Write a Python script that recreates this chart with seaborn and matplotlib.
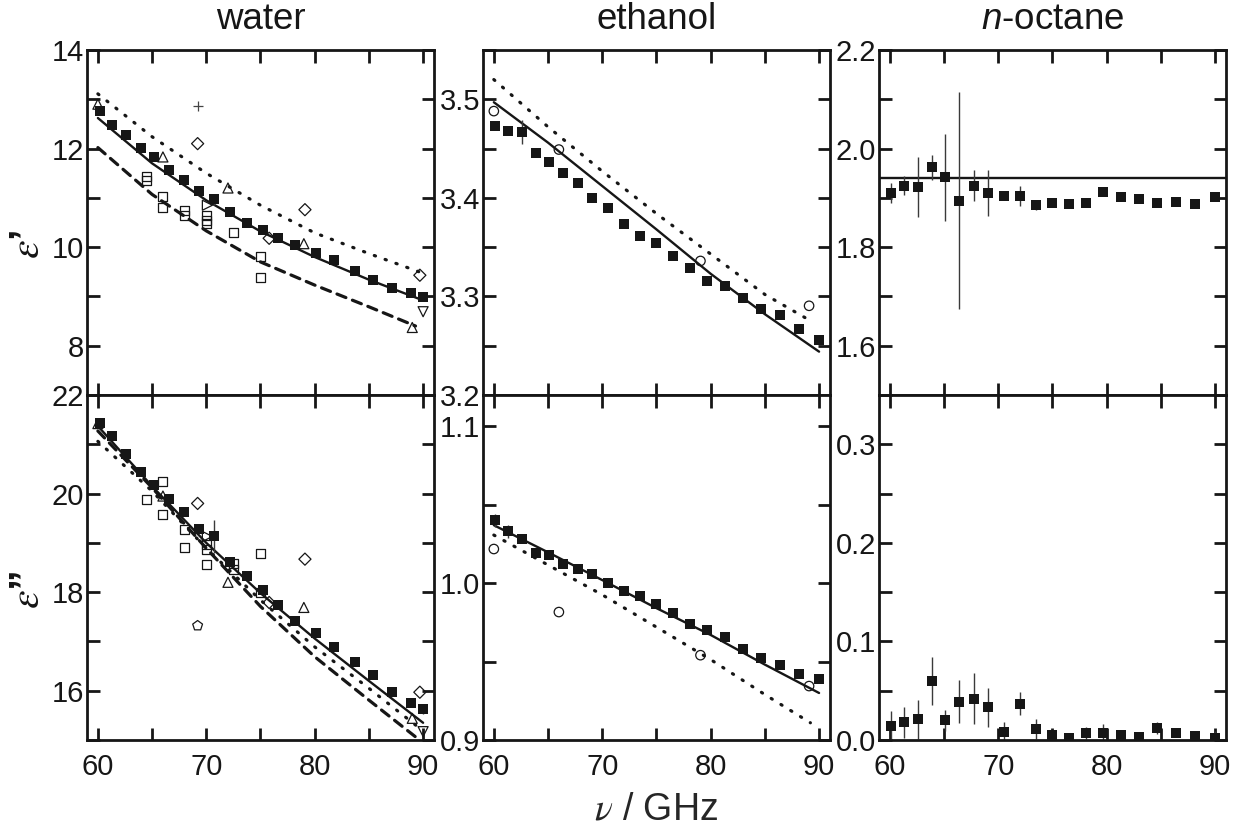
import matplotlib
matplotlib.use("Agg")
import matplotlib.pyplot as plt
from matplotlib.ticker import MultipleLocator, FormatStrFormatter
import seaborn as sns

# measured frequencies (GHz) of the filled squares
freq_water = [60.15, 61.3, 62.6, 64.0, 65.2, 66.6, 67.9, 69.3, 70.7, 72.2, 73.8,
              75.2, 76.6, 78.2, 80.1, 81.8, 83.7, 85.4, 87.1, 88.9, 90.0]
freq = [60.1, 61.3, 62.6, 63.9, 65.1, 66.4, 67.75, 69.1, 70.55, 72.0, 73.45,
        75.0, 76.5, 78.1, 79.65, 81.3, 82.95, 84.65, 86.4, 88.15, 90.0]

# water, this work
water_eps1 = [12.76, 12.47, 12.28, 12.02, 11.83, 11.56, 11.36, 11.14, 10.97, 10.71, 10.49,
              10.34, 10.18, 10.04, 9.89, 9.74, 9.52, 9.33, 9.18, 9.06, 8.99]
water_eps1_err = [0, 0, 0, 0, 0, 0, 0, 0, 0.11, 0, 0, 0, 0, 0, 0, 0, 0, 0, 0, 0, 0.03]
water_eps2 = [21.44, 21.17, 20.81, 20.44, 20.17, 19.90, 19.62, 19.28, 19.13, 18.62, 18.32,
              18.04, 17.73, 17.42, 17.18, 16.88, 16.58, 16.32, 15.98, 15.76, 15.63]
water_eps2_err = [0, 0, 0, 0, 0, 0, 0, 0, 0.33, 0, 0, 0, 0, 0, 0, 0, 0, 0, 0, 0, 0.1]

# ethanol, this work
ethanol_eps1 = [3.473, 3.468, 3.467, 3.445, 3.436, 3.425, 3.415, 3.400, 3.390, 3.373, 3.361,
                3.354, 3.341, 3.329, 3.316, 3.311, 3.298, 3.287, 3.281, 3.267, 3.256]
ethanol_eps1_err = [0, 0, 0.012, 0, 0, 0, 0, 0, 0, 0, 0, 0, 0, 0, 0, 0, 0, 0, 0, 0, 0]
ethanol_eps2 = [1.040, 1.033, 1.028, 1.019, 1.018, 1.012, 1.009, 1.006, 1.000, 0.995, 0.992,
                0.987, 0.981, 0.974, 0.970, 0.966, 0.958, 0.952, 0.948, 0.942, 0.939]
ethanol_eps2_err = [0.004, 0.004, 0, 0, 0, 0.002, 0, 0, 0, 0, 0, 0, 0, 0, 0, 0, 0, 0, 0, 0, 0]

# n-octane, this work
octane_eps1 = [1.910, 1.925, 1.922, 1.962, 1.942, 1.894, 1.925, 1.910, 1.904, 1.904, 1.885,
               1.889, 1.888, 1.890, 1.911, 1.901, 1.898, 1.890, 1.891, 1.888, 1.902]
octane_eps1_err = [0.021, 0.020, 0.060, 0.025, 0.088, 0.22, 0.032, 0.047, 0.005, 0.02, 0.01,
                   0.004, 0.004, 0.004, 0.004, 0.004, 0.004, 0.006, 0.004, 0.004, 0.004]
octane_eps2 = [0.0145, 0.018, 0.021, 0.060, 0.020, 0.039, 0.042, 0.033, 0.0085, 0.037, 0.011,
               0.005, 0.002, 0.007, 0.007, 0.005, 0.003, 0.0125, 0.007, 0.004, 0.002]
octane_eps2_err = [0.015, 0.016, 0.020, 0.024, 0.0105, 0.022, 0.026, 0.020, 0.010, 0.012, 0.010,
                   0.004, 0.003, 0.006, 0.009, 0.004, 0.004, 0.006, 0.004, 0.003, 0.007]
octane_eps1_model = 1.941

# literature values for water (open symbols)
lit_tri_f = [60.0, 66.0, 72.0, 79.0, 89.0]
lit_tri_eps1 = [12.90, 11.83, 11.20, 10.07, 8.37]
lit_tri_eps2 = [21.42, 19.95, 18.20, 17.69, 15.44]
lit_dia_f = [69.2, 75.8, 79.1, 89.7]
lit_dia_eps1 = [12.10, 10.18, 10.76, 9.43]
lit_dia_eps2 = [19.80, 17.79, 18.67, 15.97]
lit_plus_f = [69.2]
lit_plus_eps1 = [12.86]
lit_pent_f = [69.2]
lit_pent_eps2 = [17.32]
lit_sq1_f = [64.5, 64.5, 66.0, 66.0, 68.0, 68.0, 70.0, 70.0, 70.0, 72.5, 75.0, 75.0]
lit_sq1_eps1 = [11.44, 11.36, 11.02, 10.80, 10.75, 10.65, 10.65, 10.55, 10.48, 10.29, 9.82, 9.38]
lit_sq2_f = [64.5, 66.0, 66.0, 68.0, 68.0, 70.0, 70.0, 70.0, 72.5, 72.5, 75.0, 75.0]
lit_sq2_eps2 = [19.88, 20.25, 19.57, 19.27, 18.91, 18.96, 18.86, 18.56, 18.58, 18.45, 18.78, 18.00]
lit_right_f = [70.1]
lit_right_eps1 = [10.85]
lit_right_eps2 = [19.13]
lit_down_f = [90.0]
lit_down_eps1 = [8.69]
lit_down_eps2 = [15.17]

# literature values for ethanol (open circles)
lit_circ_f = [60.0, 66.0, 79.06, 89.08]
lit_circ_eps1 = [3.488, 3.449, 3.336, 3.2905]
lit_circ_eps2 = [1.0218, 0.9816, 0.9541, 0.9344]

model_f = [60, 65, 70, 75, 80, 85, 90]
water_eps1_solid = [12.62, 11.70, 10.95, 10.32, 9.80, 9.34, 8.92]
water_eps1_dotted = [13.11, 12.24, 11.50, 10.85, 10.29, 9.87, 9.47]
water_eps1_dashed_f = [60, 65, 70, 75, 80, 85, 89.3]
water_eps1_dashed = [12.02, 11.07, 10.33, 9.70, 9.23, 8.79, 8.40]
water_eps2_solid = [21.37, 20.15, 19.00, 17.98, 17.06, 16.20, 15.35]
water_eps2_short_f = [60, 65, 70, 75, 80, 85, 89.5]
water_eps2_dotted = [21.06, 20.05, 18.89, 17.84, 16.89, 16.05, 15.27]
water_eps2_dashed = [21.27, 20.12, 18.89, 17.71, 16.69, 15.81, 15.03]
ethanol_eps1_solid = [3.497, 3.456, 3.412, 3.368, 3.323, 3.282, 3.244]
ethanol_eps1_dotted_f = [60, 65, 70, 75, 80, 85, 89.1]
ethanol_eps1_dotted = [3.520, 3.472, 3.427, 3.384, 3.343, 3.302, 3.276]
ethanol_eps2_solid = [1.037, 1.0197, 1.002, 0.9841, 0.967, 0.9481, 0.930]
ethanol_eps2_dotted_f = [60, 65, 70, 75, 80, 85, 89.2]
ethanol_eps2_dotted = [1.0307, 1.0116, 0.9926, 0.972, 0.9513, 0.929, 0.911]

INK = "#161616"
DOTTED = (0, (0.4, 3.2))
DASHED = (0, (3, 2.2))

sns.set_theme(style="ticks")
plt.rcParams["font.family"] = ["Liberation Sans", "DejaVu Sans"]
plt.rcParams["mathtext.fontset"] = "custom"
plt.rcParams["mathtext.rm"] = "Liberation Sans"
plt.rcParams["mathtext.it"] = "Liberation Sans:italic"
plt.rcParams["axes.edgecolor"] = INK
plt.rcParams["xtick.color"] = INK
plt.rcParams["ytick.color"] = INK
plt.rcParams["text.color"] = INK


def measured(ax, x, y, err):
    ax.errorbar(x, y, yerr=err, fmt="none", ecolor="#3a3a3a", elinewidth=1.0, zorder=2)
    sns.scatterplot(x=x, y=y, marker="s", s=50, color=INK, linewidth=0, ax=ax, zorder=3)


def literature(ax, x, y, marker, s=46):
    sns.scatterplot(x=x, y=y, marker=marker, s=s, color=INK, facecolor="none",
                    edgecolor=INK, linewidth=0.9, ax=ax, zorder=4)


def model(ax, x, y, style):
    lw = 1.7 if style == "-" else 2.3
    sns.lineplot(x=x, y=y, color=INK, linestyle=style, linewidth=lw, ax=ax,
                 dash_capstyle="round", zorder=1)


def style_axis(ax, ylim, yticks, yminor, fmt, bottom_row):
    ax.set_xlim(59.0, 91.0)
    ax.set_ylim(*ylim)
    ax.set_yticks(yticks)
    ax.yaxis.set_minor_locator(MultipleLocator(yminor))
    ax.yaxis.set_major_formatter(FormatStrFormatter(fmt))
    ax.set_xticks([60, 70, 80, 90])
    ax.xaxis.set_minor_locator(MultipleLocator(5))
    ax.tick_params(which="both", direction="in", length=9, width=2,
                   top=True, right=True, labelsize=21)
    ax.tick_params(axis="y", pad=2)
    ax.tick_params(axis="x", pad=9, labelbottom=bottom_row)
    for sp in ax.spines.values():
        sp.set_linewidth(2)
    ax.set_xlabel("")
    ax.set_ylabel("")


fig, axes = plt.subplots(2, 3, figsize=(12.56, 8.36), dpi=100,
                         gridspec_kw=dict(left=0.0693, right=0.976, top=0.9402,
                                          bottom=0.1148, hspace=0, wspace=0.1414))

# water, real part
ax = axes[0, 0]
model(ax, model_f, water_eps1_solid, "-")
model(ax, model_f, water_eps1_dotted, DOTTED)
model(ax, water_eps1_dashed_f, water_eps1_dashed, DASHED)
literature(ax, lit_tri_f, lit_tri_eps1, "^", s=52)
literature(ax, lit_dia_f, lit_dia_eps1, "D", s=38)
literature(ax, lit_sq1_f, lit_sq1_eps1, "s", s=42)
literature(ax, lit_right_f, lit_right_eps1, ">", s=52)
literature(ax, lit_down_f, lit_down_eps1, "v", s=52)
sns.scatterplot(x=lit_plus_f, y=lit_plus_eps1, marker="+", s=60, color="#444444",
                linewidth=0.9, ax=ax)
measured(ax, freq_water, water_eps1, water_eps1_err)
style_axis(ax, (7, 14), [8, 10, 12, 14], 1, "%d", False)
ax.set_title("water", fontsize=26.5, pad=15)

# water, imaginary part
ax = axes[1, 0]
model(ax, model_f, water_eps2_solid, "-")
model(ax, water_eps2_short_f, water_eps2_dotted, DOTTED)
model(ax, water_eps2_short_f, water_eps2_dashed, DASHED)
literature(ax, lit_tri_f, lit_tri_eps2, "^", s=52)
literature(ax, lit_dia_f, lit_dia_eps2, "D", s=38)
literature(ax, lit_sq2_f, lit_sq2_eps2, "s", s=42)
literature(ax, lit_right_f, lit_right_eps2, ">", s=52)
literature(ax, lit_down_f, lit_down_eps2, "v", s=52)
literature(ax, lit_pent_f, lit_pent_eps2, "p", s=55)
measured(ax, freq_water, water_eps2, water_eps2_err)
style_axis(ax, (15, 22), [16, 18, 20, 22], 1, "%d", True)

# ethanol
ax = axes[0, 1]
model(ax, model_f, ethanol_eps1_solid, "-")
model(ax, ethanol_eps1_dotted_f, ethanol_eps1_dotted, DOTTED)
literature(ax, lit_circ_f, lit_circ_eps1, "o")
measured(ax, freq, ethanol_eps1, ethanol_eps1_err)
style_axis(ax, (3.2, 3.55), [3.2, 3.3, 3.4, 3.5], 0.05, "%.1f", False)
ax.set_title("ethanol", fontsize=26.5, pad=15)

ax = axes[1, 1]
model(ax, model_f, ethanol_eps2_solid, "-")
model(ax, ethanol_eps2_dotted_f, ethanol_eps2_dotted, DOTTED)
literature(ax, lit_circ_f, lit_circ_eps2, "o")
measured(ax, freq, ethanol_eps2, ethanol_eps2_err)
style_axis(ax, (0.9, 1.12), [0.9, 1.0, 1.1], 0.05, "%.1f", True)
ax.set_xlabel(r"$\nu$ / GHz", fontsize=27, math_fontfamily="stix", labelpad=8)

# n-octane
ax = axes[0, 2]
ax.axhline(octane_eps1_model, color=INK, linewidth=1.7, zorder=1)
measured(ax, freq, octane_eps1, octane_eps1_err)
style_axis(ax, (1.5, 2.2), [1.6, 1.8, 2.0, 2.2], 0.1, "%.1f", False)
ax.set_title(r"$n$-octane", fontsize=26.5, pad=15)

ax = axes[1, 2]
measured(ax, freq, octane_eps2, octane_eps2_err)
style_axis(ax, (0, 0.35), [0.0, 0.1, 0.2, 0.3], 0.05, "%.1f", True)

# row labels
fig.text(28 / 1256, 1 - 244 / 836, "$\\varepsilon$\u2019", rotation=90, ha="center",
         va="center", fontsize=30, fontweight="bold", math_fontfamily="stix")
fig.text(28 / 1256, 1 - 590 / 836, "$\\varepsilon$\u201d", rotation=90, ha="center",
         va="center", fontsize=30, fontweight="bold", math_fontfamily="stix")

fig.savefig("out.png", dpi=100)
